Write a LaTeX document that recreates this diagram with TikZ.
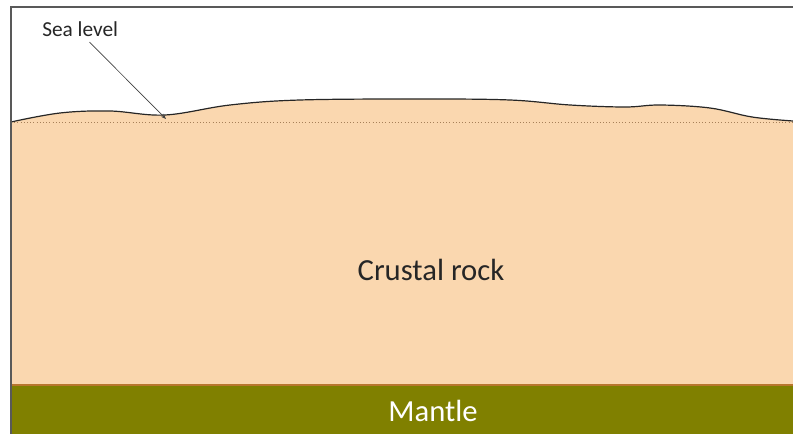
\documentclass[tikz,border=0pt]{standalone}
\usepackage{fontspec}
\setmainfont{Carlito}
\usetikzlibrary{arrows.meta,positioning}

\definecolor{crust}{HTML}{FAD7AF}
\definecolor{mantlegreen}{HTML}{808000}
\definecolor{rim}{HTML}{B8762E}

\begin{document}
\begin{tikzpicture}[
  x=0.75pt, y=-0.75pt,
  frame/.style={draw=gray!70!black, line width=0.8pt},
  surface/.style={draw=black!85, line width=0.9pt},
  sealine/.style={draw=brown!60!gray, dotted, line width=0.4pt},
  pointer/.style={-{Stealth[length=4pt, width=3pt]}, draw=black!75, line width=0.5pt},
  label/.style={font=\fontsize{16}{18}\selectfont, text=black!85, inner sep=0pt},
  layer/.style={font=\fontsize{23}{26}\selectfont, inner sep=0pt}
]
  \useasboundingbox (0,0) rectangle (793,434);

  % crust and mantle
  \fill[crust] (11,122) plot[smooth, tension=0.6] coordinates {
      (11,122) (60,113) (110,111) (165,115) (230,105) (300,100)
      (420,99) (510,100) (570,105) (625,107) (660,105) (710,108)
      (752,117) (793,121)}
    -- (793,385) -- (11,385) -- cycle;
  \fill[mantlegreen] (11,385) rectangle (793,434);
  \draw[rim, line width=0.8pt] (11,385) -- (793,385);

  % land surface
  \draw[surface] plot[smooth, tension=0.6] coordinates {
      (11,122) (60,113) (110,111) (165,115) (230,105) (300,100)
      (420,99) (510,100) (570,105) (625,107) (660,105) (710,108)
      (752,117) (793,121)};

  % sea level
  \coordinate (west) at (11,122);
  \coordinate (east) at (793,122);
  \coordinate (tip) at (166,119);
  \draw[sealine] (west) -- (east);

  % frame
  \draw[frame] (11,434) -- (11,7) -- (793,7);

  % labels
  \node[label, anchor=west] (sea) at (42,29) {Sea level};
  \node[layer, text=black!85] (crustal) at (431,270) {Crustal rock};
  \node[layer, text=white] (mantle) at (433,411) {Mantle};

  % Arrows
  \draw[pointer] ([xshift=7pt, yshift=-4pt]sea.south) -- (tip);
\end{tikzpicture}
\end{document}
